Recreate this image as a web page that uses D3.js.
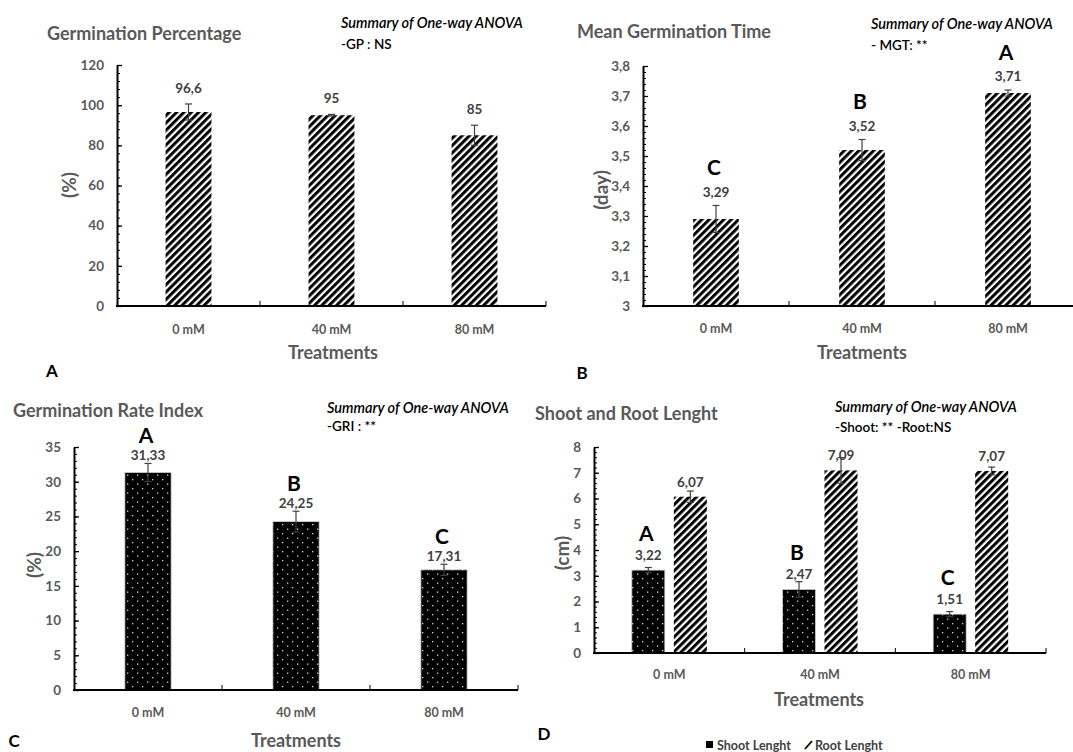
<!DOCTYPE html>
<html>
<head>
<meta charset="utf-8">
<script src="https://cdn.jsdelivr.net/npm/d3@7"></script>
<style>
  html, body { margin: 0; padding: 0; background: #fff; }
  svg { display: block; font-family: Lato, "Open Sans", sans-serif; }
</style>
</head>
<body>
<svg id="chart" width="1073" height="752"></svg>
<script>
// ---------------- DATA ----------------
const categories = ["0 mM", "40 mM", "80 mM"];

const gpValues = [96.6, 95, 85];
const gpErrors = [4, 0.4, 5];
const gpTicks = [0, 20, 40, 60, 80, 100, 120];

const mgtValues = [3.29, 3.52, 3.71];
const mgtErrors = [0.045, 0.035, 0.01];
const mgtLetters = ["C", "B", "A"];
const mgtTicks = [3, 3.1, 3.2, 3.3, 3.4, 3.5, 3.6, 3.7, 3.8];

const griValues = [31.33, 24.25, 17.31];
const griErrors = [1.3, 1.5, 0.8];
const griLetters = ["A", "B", "C"];
const griTicks = [0, 5, 10, 15, 20, 25, 30, 35];

const shootValues = [3.22, 2.47, 1.51];
const shootErrors = [0.1, 0.3, 0.1];
const shootLetters = ["A", "B", "C"];
const rootValues = [6.07, 7.09, 7.07];
const rootErrors = [0.22, 0.5, 0.15];
const lenTicks = [0, 1, 2, 3, 4, 5, 6, 7, 8];

const titles = ["Germination Percentage", "Mean Germination Time", "Germination Rate Index", "Shoot and Root Lenght"];
const yTitles = ["(%)", "(day)", "(%)", "(cm)"];
const summaryHead = "Summary of  One-way ANOVA";
const summaryLines = ["-GP : NS", "- MGT: **", "-GRI : **", "-Shoot: ** -Root:NS"];
const panelLetters = ["A", "B", "C", "D"];
const xTitle = "Treatments";
const legendLabels = ["Shoot Lenght", "Root Lenght"];

// ---------------- DRAWING ----------------
const svg = d3.select("#chart");
const defs = svg.append("defs");

// diagonal hatch "/"
const hatch = defs.append("pattern")
  .attr("id", "hatch").attr("patternUnits", "userSpaceOnUse")
  .attr("width", 5.2).attr("height", 5.2)
  .attr("patternTransform", "rotate(45)");
hatch.append("rect").attr("width", 5.2).attr("height", 5.2).attr("fill", "#fff");
hatch.append("rect").attr("width", 3.0).attr("height", 5.2).attr("fill", "#000");

// black with small light dots
const dots = defs.append("pattern")
  .attr("id", "dots").attr("patternUnits", "userSpaceOnUse")
  .attr("width", 10).attr("height", 9);
dots.append("rect").attr("width", 10).attr("height", 9).attr("fill", "#000");
dots.append("rect").attr("x", 2).attr("y", 2).attr("width", 1.3).attr("height", 1.3).attr("fill", "#d8d8d8");
dots.append("rect").attr("x", 7).attr("y", 6.5).attr("width", 1.3).attr("height", 1.3).attr("fill", "#d8d8d8");

const fmt = v => String(v).replace(".", ",");
const gray = "#595959";
const dark = "#404040";

function drawPanel(cfg) {
  const g = svg.append("g");
  const y = d3.scaleLinear().domain([cfg.ticks[0], cfg.ticks[cfg.ticks.length - 1]])
    .range([cfg.yBottom, cfg.yTop]);
  const x = d3.scaleBand().domain(categories).range([cfg.xLeft, cfg.xRight]).padding(0);
  const keys = cfg.series.map((s, i) => "s" + i);
  const xi = d3.scaleBand().domain(keys).range([0, x.bandwidth()])
    .paddingInner(cfg.padInner).paddingOuter(cfg.padOuter);

  // minor ticks
  const majStep = cfg.ticks[1] - cfg.ticks[0];
  const lo = cfg.ticks[0], hi = cfg.ticks[cfg.ticks.length - 1];
  const minor = d3.range(0, Math.round((hi - lo) / majStep * 5) + 1).map(k => lo + k * majStep / 5);
  g.append("g").attr("transform", `translate(${cfg.xLeft},0)`)
    .call(d3.axisLeft(y).tickValues(minor).tickSizeInner(-3).tickSizeOuter(0).tickFormat(""))
    .call(a => a.select(".domain").remove())
    .call(a => a.selectAll("line").attr("stroke", "#000").attr("stroke-width", 1));

  // bars
  cfg.series.forEach((s, si) => {
    const k = keys[si];
    g.append("g").selectAll("rect").data(s.values).join("rect")
      .attr("x", (d, i) => x(categories[i]) + xi(k))
      .attr("width", xi.bandwidth())
      .attr("y", d => y(d))
      .attr("height", d => cfg.yBottom - y(d))
      .attr("fill", s.fill)
      .attr("stroke", s.stroke || "none")
      .attr("stroke-width", 0.8);

    // error bars
    const eg = g.append("g").attr("stroke", dark).attr("stroke-width", 1.2).attr("fill", "none");
    s.values.forEach((v, i) => {
      const cx = x(categories[i]) + xi(k) + xi.bandwidth() / 2;
      const e = s.errors[i];
      eg.append("line").attr("x1", cx).attr("x2", cx).attr("y1", y(v - e)).attr("y2", y(v + e));
      eg.append("line").attr("x1", cx - 3.5).attr("x2", cx + 3.5).attr("y1", y(v + e)).attr("y2", y(v + e));
      eg.append("line").attr("x1", cx - 3.5).attr("x2", cx + 3.5).attr("y1", y(v - e)).attr("y2", y(v - e));
    });

    // value labels
    s.values.forEach((v, i) => {
      const cx = x(categories[i]) + xi(k) + xi.bandwidth() / 2;
      const ly = cfg.labelFromBar ? y(v) - cfg.labelOffset : y(v + s.errors[i]) - cfg.labelOffset;
      g.append("text").attr("x", cx).attr("y", ly)
        .attr("text-anchor", "middle").attr("dominant-baseline", "central")
        .attr("font-size", 13.5).attr("font-weight", "bold").attr("fill", dark)
        .text(fmt(v));
      if (s.letters) {
        g.append("text").attr("x", cx - 2).attr("y", ly - cfg.letterOffset)
          .attr("text-anchor", "middle").attr("dominant-baseline", "central")
          .attr("font-size", 21).attr("font-weight", "bold").attr("fill", "#000")
          .text(s.letters[i]);
      }
    });
  });

  // y axis
  g.append("g").attr("transform", `translate(${cfg.xLeft},0)`)
    .call(d3.axisLeft(y).tickValues(cfg.ticks).tickSizeInner(-5).tickSizeOuter(0).tickPadding(13).tickFormat(fmt))
    .call(a => a.select(".domain").attr("stroke", "#000").attr("stroke-width", 2))
    .call(a => a.selectAll("line").attr("stroke", "#000").attr("stroke-width", 1.3))
    .call(a => a.selectAll("text").attr("font-size", 13.5).attr("font-weight", "bold")
      .attr("fill", gray).attr("font-family", "Lato, 'Open Sans', sans-serif"));

  // x axis line + divider ticks
  g.append("line").attr("x1", cfg.xLeft - 1).attr("x2", cfg.xRight).attr("y1", cfg.yBottom).attr("y2", cfg.yBottom)
    .attr("stroke", "#000").attr("stroke-width", 2);
  const divs = categories.slice(1).map(c => x(c)).concat([cfg.xRight]);
  g.append("g").selectAll("line").data(divs).join("line")
    .attr("x1", d => d).attr("x2", d => d).attr("y1", cfg.yBottom).attr("y2", cfg.yBottom - 5)
    .attr("stroke", "#000").attr("stroke-width", 1);
  g.append("g").selectAll("text").data(categories).join("text")
    .attr("x", d => x(d) + x.bandwidth() / 2).attr("y", cfg.yBottom + cfg.catGap)
    .attr("text-anchor", "middle").attr("dominant-baseline", "central")
    .attr("font-size", 12.5).attr("font-weight", "bold").attr("fill", gray)
    .text(d => d);

  // titles
  g.append("text").attr("x", cfg.titleX).attr("y", cfg.titleY).attr("dominant-baseline", "central")
    .attr("font-size", 18).attr("font-weight", "bold").attr("fill", gray).text(cfg.title);
  g.append("text").attr("x", cfg.sumX).attr("y", cfg.sumY).attr("dominant-baseline", "central")
    .attr("font-size", 14.5).attr("font-style", "italic").attr("font-weight", 600).attr("fill", "#000").text(summaryHead);
  g.append("text").attr("x", cfg.sumX).attr("y", cfg.sumY + cfg.sumGap).attr("dominant-baseline", "central")
    .attr("font-size", 13.5).attr("font-weight", 600).attr("fill", "#000").text(cfg.summary);
  g.append("text").attr("transform", `translate(${cfg.yTitleX},${cfg.yTitleY}) rotate(-90)`)
    .attr("text-anchor", "middle").attr("dominant-baseline", "central")
    .attr("font-size", 19).attr("font-weight", "bold").attr("fill", gray).text(cfg.yTitle);
  g.append("text").attr("x", cfg.xTitleX).attr("y", cfg.xTitleY)
    .attr("text-anchor", "middle").attr("dominant-baseline", "central")
    .attr("font-size", 18).attr("font-weight", "bold").attr("fill", gray).text(xTitle);
  g.append("text").attr("x", cfg.letterX).attr("y", cfg.letterY)
    .attr("text-anchor", "middle").attr("dominant-baseline", "central")
    .attr("font-size", 17).attr("font-weight", "bold").attr("fill", "#000").text(cfg.panelLetter);
}

// Panel A
drawPanel({
  xLeft: 117, xRight: 546, yBottom: 306, yTop: 65, ticks: gpTicks,
  padInner: 0, padOuter: 1.06,
  series: [{ values: gpValues, errors: gpErrors, fill: "url(#hatch)" }],
  labelOffset: 16, letterOffset: 24, catGap: 23,
  title: titles[0], titleX: 47, titleY: 33,
  summary: summaryLines[0], sumX: 341, sumY: 22, sumGap: 22,
  yTitle: yTitles[0], yTitleX: 68, yTitleY: 185,
  xTitleX: 333, xTitleY: 352, panelLetter: panelLetters[0], letterX: 52, letterY: 370
});

// Panel B
drawPanel({
  xLeft: 643, xRight: 1081, yBottom: 306, yTop: 66, ticks: mgtTicks,
  padInner: 0, padOuter: 1.1,
  series: [{ values: mgtValues, errors: mgtErrors, fill: "url(#hatch)", letters: mgtLetters }],
  labelOffset: 14, letterOffset: 25, catGap: 22,
  title: titles[1], titleX: 577, titleY: 31,
  summary: summaryLines[1], sumX: 871, sumY: 23, sumGap: 22,
  yTitle: yTitles[1], yTitleX: 600, yTitleY: 190,
  xTitleX: 862, xTitleY: 352, panelLetter: panelLetters[1], letterX: 582, letterY: 372
});

// Panel C
drawPanel({
  xLeft: 74, xRight: 518, yBottom: 690, yTop: 447, ticks: griTicks,
  padInner: 0, padOuter: 1.1,
  series: [{ values: griValues, errors: griErrors, fill: "url(#dots)", stroke: "#cfcfcf", letters: griLetters }],
  labelOffset: 8, letterOffset: 21, catGap: 22,
  title: titles[2], titleX: 13, titleY: 410,
  summary: summaryLines[2], sumX: 327, sumY: 407, sumGap: 19,
  yTitle: yTitles[2], yTitleX: 33, yTitleY: 565,
  xTitleX: 296, xTitleY: 740, panelLetter: panelLetters[2], letterX: 14, letterY: 740
});

// Panel D
drawPanel({
  xLeft: 594, xRight: 1046, yBottom: 653, yTop: 447, ticks: lenTicks,
  padInner: 0.214, padOuter: 0.9,
  series: [
    { values: shootValues, errors: shootErrors, fill: "url(#dots)", stroke: "#cfcfcf", letters: shootLetters },
    { values: rootValues, errors: rootErrors, fill: "url(#hatch)" }
  ],
  labelFromBar: true, labelOffset: 15, letterOffset: 23, catGap: 21,
  title: titles[3], titleX: 535, titleY: 413,
  summary: summaryLines[3], sumX: 835, sumY: 406, sumGap: 21,
  yTitle: yTitles[3], yTitleX: 561, yTitleY: 553,
  xTitleX: 819, xTitleY: 699, panelLetter: panelLetters[3], letterX: 544, letterY: 733
});

// Legend (panel D)
const lg = svg.append("g");
lg.append("rect").attr("x", 706).attr("y", 741).attr("width", 7).attr("height", 7).attr("fill", "#000");
lg.append("text").attr("x", 717).attr("y", 745).attr("dominant-baseline", "central")
  .attr("font-size", 12.5).attr("font-weight", "bold").attr("fill", dark).text(legendLabels[0]);
lg.append("line").attr("x1", 805).attr("y1", 749).attr("x2", 812).attr("y2", 741)
  .attr("stroke", "#000").attr("stroke-width", 1.8);
lg.append("text").attr("x", 815).attr("y", 745).attr("dominant-baseline", "central")
  .attr("font-size", 12.5).attr("font-weight", "bold").attr("fill", dark).text(legendLabels[1]);
</script>
</body>
</html>
